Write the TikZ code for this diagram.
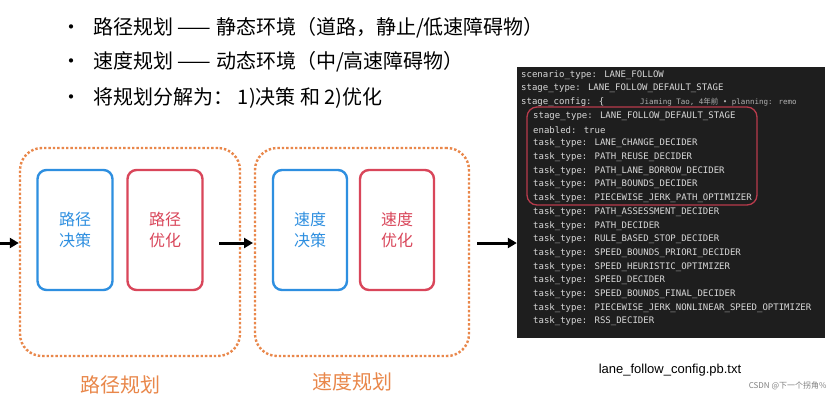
\documentclass[tikz,border=0pt]{standalone}
\usepackage{fontspec}
\setmainfont{Noto Sans CJK SC}
\newfontfamily\monof{DejaVu Sans Mono}
\newfontfamily\sansf{Liberation Sans}
\newfontfamily\cjkf{Noto Sans CJK SC}
\definecolor{orng}{HTML}{E9874A}
\definecolor{bluebox}{HTML}{2E8FE0}
\definecolor{redbox}{HTML}{D9465A}
\definecolor{term}{HTML}{1E1E1E}
\definecolor{termtx}{HTML}{D8D8D8}
\usetikzlibrary{arrows.meta}
\tikzset{
 group/.style={draw=orng,line width=2.4pt,dotted,rounded corners=22pt},
 inner/.style={line width=2.4pt,rounded corners=9pt,align=center,font=\fontsize{16}{21}\selectfont},
 arr/.style={-{Triangle[length=9pt,width=10pt]},line width=3pt},
 bul/.style={anchor=west,font=\fontsize{20}{24}\selectfont},
 lbl/.style={text=orng,font=\fontsize{20}{24}\selectfont},
 tl/.style={anchor=west,text=termtx,font=\monof\fontsize{9}{10}\selectfont,inner sep=0pt}
}
\begin{document}
\begin{tikzpicture}[x=1pt,y=-1pt]
\useasboundingbox (0,0) rectangle (835,400);
\fill[white] (0,0) rectangle (835,400);
\foreach \y/\t in {28/{路径规划 —— 静态环境（道路，静止/低速障碍物）},62/{速度规划 —— 动态环境（中/高速障碍物）},98/{将规划分解为： 1)决策 和 2)优化}}{
 \node[bul] at (58,\y) {•\hspace{12pt}\t};}
\node[group,minimum width=220pt,minimum height=208pt] (g1) at (130,252) {};
\node[group,minimum width=214pt,minimum height=208pt] (g2) at (362,252) {};
\node[inner,draw=bluebox,text=bluebox,minimum width=75pt,minimum height=120pt] (a) at (75,230) {路径\\决策};
\node[inner,draw=redbox,text=redbox,minimum width=75pt,minimum height=120pt] (b) at (165,230) {路径\\优化};
\node[inner,draw=bluebox,text=bluebox,minimum width=74pt,minimum height=120pt] (c) at (310,230) {速度\\决策};
\node[inner,draw=redbox,text=redbox,minimum width=74pt,minimum height=120pt] (d) at (397,230) {速度\\优化};
\coordinate (s0) at (0,243);
\draw[arr] (s0) -- (g1.west |- s0);
\coordinate (m1) at (219,243); \coordinate (m2) at (253,243);
\draw[arr] (m1) -- (m2);
\node[fill=term,minimum width=308pt,minimum height=271pt,inner sep=0pt] (t) at (671,202) {};
\coordinate (m3) at (477,243);
\draw[arr] (m3) -- (t.west |- m3);
\node[lbl] (l1) at (120,385) {路径规划};
\node[lbl] (l2) at (352,382) {速度规划};
\foreach \i/\t/\x in {
0/scenario\_type: LANE\_FOLLOW/521,
1/stage\_type: LANE\_FOLLOW\_DEFAULT\_STAGE/521,
2/stage\_config: \{/521,
3/stage\_type: LANE\_FOLLOW\_DEFAULT\_STAGE/533,
4/enabled: true/533,
5/task\_type: LANE\_CHANGE\_DECIDER/533,
6/task\_type: PATH\_REUSE\_DECIDER/533,
7/task\_type: PATH\_LANE\_BORROW\_DECIDER/533,
8/task\_type: PATH\_BOUNDS\_DECIDER/533,
9/task\_type: PIECEWISE\_JERK\_PATH\_OPTIMIZER/533,
10/task\_type: PATH\_ASSESSMENT\_DECIDER/533,
11/task\_type: PATH\_DECIDER/533,
12/task\_type: RULE\_BASED\_STOP\_DECIDER/533,
13/task\_type: SPEED\_BOUNDS\_PRIORI\_DECIDER/533,
14/task\_type: SPEED\_HEURISTIC\_OPTIMIZER/533,
15/task\_type: SPEED\_DECIDER/533,
16/task\_type: SPEED\_BOUNDS\_FINAL\_DECIDER/533,
17/task\_type: PIECEWISE\_JERK\_NONLINEAR\_SPEED\_OPTIMIZER/533,
18/task\_type: RSS\_DECIDER/533}{
 \node[tl] (r\i) at (\x,{75+13.7*\i}) {\t};}
\node[tl,text=gray!60,font=\monof\fontsize{7.5}{8}\selectfont] (blame) at (640,102) {Jiaming Tao, 4{\cjkf 年前} • planning: remo};
\draw[redbox!85!black,line width=1.3pt,rounded corners=10pt] (527,107) rectangle (757,205);
\node[font=\sansf\fontsize{13}{15}\selectfont] (fn) at (670,370) {lane\_follow\_config.pb.txt};
\node[anchor=east,text=gray,font=\fontsize{8}{10}\selectfont] (wm) at (830,386) {CSDN @下一个拐角\%};
\end{tikzpicture}
\end{document}
